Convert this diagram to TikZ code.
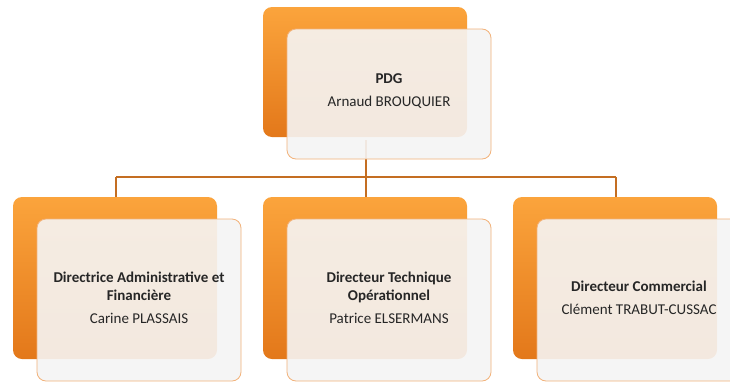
\documentclass[tikz,border=0pt]{standalone}
\usepackage{fontspec}
\setmainfont{Carlito}
\definecolor{orTop}{HTML}{FBA43C}
\definecolor{orBot}{HTML}{E3781A}
\definecolor{lineC}{HTML}{C46E22}
\definecolor{cardB}{HTML}{F2B27A}
\definecolor{cardF}{HTML}{F5F5F5}
\definecolor{txt}{HTML}{262626}
\begin{document}
\begin{tikzpicture}[x=1pt,y=-1pt,
  back/.style={rounded corners=9pt,top color=orTop,bottom color=orBot,draw=none},
  card/.style={rounded corners=9pt,fill=cardF,fill opacity=0.9,draw=cardB,line width=0.8pt},
  lbl/.style={align=center,text=txt,font=\fontsize{15}{18}\selectfont,inner sep=0pt},
  conn/.style={draw=lineC,line width=1.4pt}]
\clip (0,0) rectangle (730,381);
\fill[white] (0,0) rectangle (730,381);
% connectors
\coordinate (h) at (366,177);
\coordinate (hl) at (116,177);
\coordinate (hr) at (616,177);
\draw[conn] (366,140) -- (h);
\draw[conn] (hl) -- (hr);
\draw[conn] (hl) -- (116,198);
\draw[conn] (h) -- (366,198);
\draw[conn] (hr) -- (616,198);
% top
\path[back] (263,7) rectangle (467,137);
\path[card] (287,29) rectangle (491,159);
\node[lbl] (pdg) at (389,91) {\textbf{PDG}\\[5pt]Arnaud BROUQUIER};
% bottom left
\path[back] (13,197) rectangle (217,359);
\path[card] (37,219) rectangle (241,381);
\node[lbl] (daf) at (139,298) {\textbf{Directrice Administrative et}\\\textbf{Financière}\\[5pt]Carine PLASSAIS};
% bottom middle
\path[back] (263,197) rectangle (467,359);
\path[card] (287,219) rectangle (491,381);
\node[lbl] (dto) at (389,298) {\textbf{Directeur Technique}\\\textbf{Opérationnel}\\[5pt]Patrice ELSERMANS};
% bottom right
\path[back] (513,197) rectangle (717,359);
\path[card] (537,219) rectangle (741,381);
\node[lbl] (dc) at (639,298) {\textbf{Directeur Commercial}\\[5pt]Clément TRABUT-CUSSAC};
\end{tikzpicture}
\end{document}
